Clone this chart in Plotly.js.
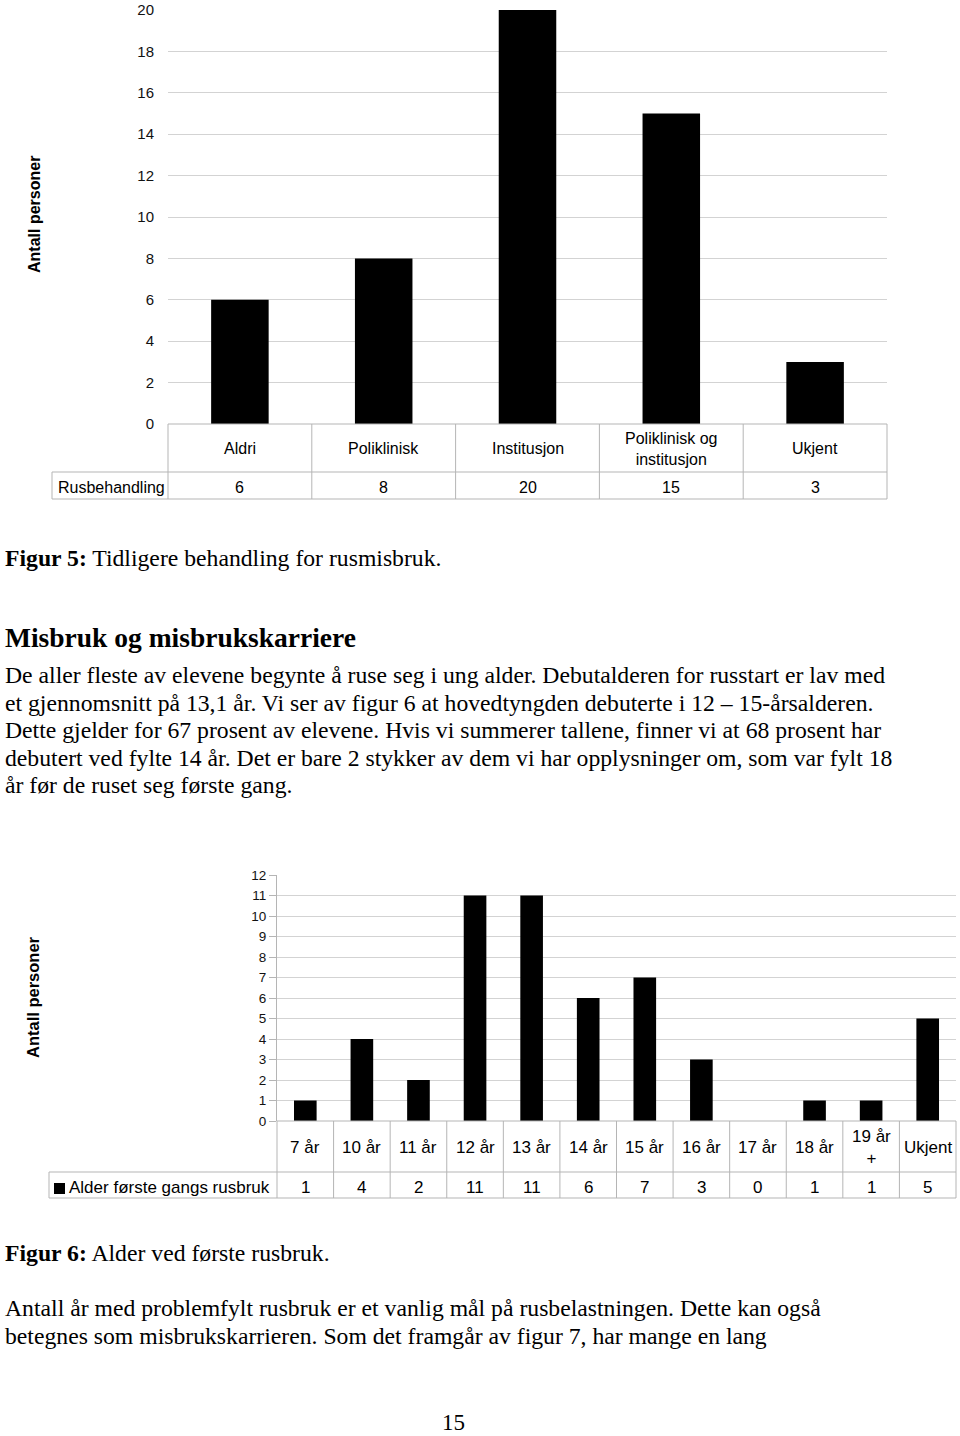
<!DOCTYPE html>
<html>
<head>
<meta charset="utf-8">
<script src="https://cdn.plot.ly/plotly-3.0.1.min.js"></script>
<style>
  html, body { margin: 0; padding: 0; background: #fff; }
  #chart { width: 960px; height: 1436px; }
</style>
</head>
<body>
<div id="chart"></div>
<script>
// ---------- Data ----------
const treatCategories = ['Aldri', 'Poliklinisk', 'Institusjon', 'Poliklinisk og<br>institusjon', 'Ukjent'];
const treatValues = [6, 8, 20, 15, 3];
const treatSeries = 'Rusbehandling';
const treatTicks = [0, 2, 4, 6, 8, 10, 12, 14, 16, 18, 20];

const ageCategories = ['7 år', '10 år', '11 år', '12 år', '13 år', '14 år', '15 år', '16 år', '17 år', '18 år', '19 år<br>+', 'Ukjent'];
const ageValues = [1, 4, 2, 11, 11, 6, 7, 3, 0, 1, 1, 5];
const ageSeries = 'Alder første gangs rusbruk';
const ageTicks = [0, 1, 2, 3, 4, 5, 6, 7, 8, 9, 10, 11, 12];

const yTitle = 'Antall personer';

const caption5 = '<b>Figur 5:</b> Tidligere behandling for rusmisbruk.';
const heading = '<b>Misbruk og misbrukskarriere</b>';
const paragraph1 = [
  'De aller fleste av elevene begynte å ruse seg i ung alder. Debutalderen for russtart er lav med',
  'et gjennomsnitt på 13,1 år. Vi ser av figur 6 at hovedtyngden debuterte i 12 – 15-årsalderen.',
  'Dette gjelder for 67 prosent av elevene. Hvis vi summerer tallene, finner vi at 68 prosent har',
  'debutert ved fylte 14 år. Det er bare 2 stykker av dem vi har opplysninger om, som var fylt 18',
  'år før de ruset seg første gang.'
];
const caption6 = '<b>Figur 6:</b> Alder ved første rusbruk.';
const paragraph2 = [
  'Antall år med problemfylt rusbruk er et vanlig mål på rusbelastningen. Dette kan også',
  'betegnes som misbrukskarrieren. Som det framgår av figur 7, har mange en lang'
];
const pageNumber = '15';

// ---------- Layout helpers ----------
const W = 960, H = 1436;
const px = v => v / W;
const py = v => 1 - v / H;
const SANS = 'Liberation Sans, Arial, sans-serif';
const SERIF = 'Liberation Serif, Times New Roman, serif';
const GRID = '#d3d3d3';
const BORDER = '#b5b5b5';
const BODY = 23.7;

const shapes = [];
const annotations = [];

function hline(xref, x0, x1, y) {
  shapes.push({type: 'line', xref: xref, yref: 'paper', x0: x0, x1: x1, y0: py(y), y1: py(y),
    line: {color: BORDER, width: 1}, layer: 'above'});
}
function vline(xref, x, y0, y1) {
  shapes.push({type: 'line', xref: xref, yref: 'paper', x0: x, x1: x, y0: py(y0), y1: py(y1),
    line: {color: BORDER, width: 1}, layer: 'above'});
}

// Data table under a chart
function buildTable(o) {
  const xa = o.xaxis;
  const dom = xa + ' domain';
  const n = o.categories.length;
  hline(dom, 0, 1, o.top);
  hline(dom, 0, 1, o.mid);
  hline(dom, 0, 1, o.bot);
  hline('paper', px(o.headLeft), px(o.domLeft), o.mid);
  hline('paper', px(o.headLeft), px(o.domLeft), o.bot);
  for (let i = 0; i <= n; i++) vline(dom, i / n, o.top, o.bot);
  vline('paper', px(o.headLeft), o.mid, o.bot);
  o.categories.forEach((c, i) => {
    annotations.push({xref: xa, yref: 'paper', x: c, y: py(o.catY), text: c, showarrow: false,
      xanchor: 'center', yanchor: 'middle', font: {family: SANS, size: o.fontSize, color: '#000'}});
    annotations.push({xref: xa, yref: 'paper', x: c, y: py(o.valY), text: String(o.values[i]), showarrow: false,
      xanchor: 'center', yanchor: 'middle', font: {family: SANS, size: o.fontSize, color: '#000'}});
  });
  annotations.push({xref: 'paper', yref: 'paper', x: px(o.headTextX), y: py(o.headTextY), text: o.series,
    showarrow: false, xanchor: 'left', yanchor: 'middle', font: {family: SANS, size: o.fontSize, color: '#000'}});
}

const c1 = {left: 168, right: 887, top: 10, bottom: 424};
const c2 = {left: 277, right: 956, top: 875, bottom: 1121};

buildTable({xaxis: 'x', categories: treatCategories, values: treatValues, series: treatSeries,
  top: 424, mid: 472, bot: 499, headLeft: 52, domLeft: c1.left, catY: 449, valY: 487,
  headTextX: 56, headTextY: 487, fontSize: 16});
buildTable({xaxis: 'x2', categories: ageCategories, values: ageValues, series: ageSeries,
  top: 1121, mid: 1172, bot: 1198, headLeft: 49, domLeft: c2.left, catY: 1147, valY: 1187,
  headTextX: 67, headTextY: 1187, fontSize: 17});

// legend key square for chart 2
shapes.push({type: 'rect', xref: 'paper', yref: 'paper', x0: px(54), x1: px(65), y0: py(1194), y1: py(1183),
  fillcolor: '#000', line: {width: 0}});

// y-axis titles
annotations.push({xref: 'paper', yref: 'paper', x: px(35), y: py(215), text: '<b>' + yTitle + '</b>',
  textangle: -90, showarrow: false, xanchor: 'center', yanchor: 'middle',
  font: {family: SANS, size: 16, color: '#000'}});
annotations.push({xref: 'paper', yref: 'paper', x: px(33), y: py(997), text: '<b>' + yTitle + '</b>',
  textangle: -90, showarrow: false, xanchor: 'center', yanchor: 'middle',
  font: {family: SANS, size: 16.5, color: '#000'}});

// page text
function textLine(t, y, size) {
  annotations.push({xref: 'paper', yref: 'paper', x: px(3), y: py(y), text: t,
    showarrow: false, xanchor: 'left', yanchor: 'middle', font: {family: SERIF, size: size, color: '#000'}});
}
textLine(caption5, 558, BODY);
textLine(heading, 638, 27.5);
paragraph1.forEach((t, i) => textLine(t, 675 + i * 27.5, BODY));
textLine(caption6, 1253, BODY);
paragraph2.forEach((t, i) => textLine(t, 1308 + i * 28, BODY));
annotations.push({xref: 'paper', yref: 'paper', x: px(453), y: py(1422), text: pageNumber, showarrow: false,
  xanchor: 'center', yanchor: 'middle', borderpad: 0, font: {family: SERIF, size: 23, color: '#000'}});

// ---------- Traces ----------
const traces = [
  {type: 'bar', x: treatCategories, y: treatValues, name: treatSeries, xaxis: 'x', yaxis: 'y',
    width: 0.4, marker: {color: '#000', line: {width: 0}}, hoverinfo: 'x+y'},
  {type: 'bar', x: ageCategories, y: ageValues, name: ageSeries, xaxis: 'x2', yaxis: 'y2',
    width: 0.4, marker: {color: '#000', line: {width: 0}}, hoverinfo: 'x+y'}
];

const layout = {
  width: W, height: H,
  margin: {l: 0, r: 0, t: 0, b: 0},
  paper_bgcolor: '#fff', plot_bgcolor: '#fff',
  showlegend: false,
  xaxis: {domain: [px(c1.left), px(c1.right)], anchor: 'y', type: 'category',
    range: [-0.5, treatCategories.length - 0.5], showticklabels: false, showgrid: false,
    zeroline: false, showline: false, ticks: ''},
  yaxis: {domain: [py(c1.bottom), py(c1.top)], anchor: 'x', range: [0, 20],
    tickvals: treatTicks, showgrid: true, gridcolor: GRID, gridwidth: 1, zeroline: false,
    showline: false, ticks: '', ticklabelstandoff: 13,
    tickfont: {family: SANS, size: 15, color: '#111'}},
  xaxis2: {domain: [px(c2.left), px(c2.right)], anchor: 'y2', type: 'category',
    range: [-0.5, ageCategories.length - 0.5], showticklabels: false, showgrid: false,
    zeroline: false, showline: false, ticks: ''},
  yaxis2: {domain: [py(c2.bottom), py(c2.top)], anchor: 'x2', range: [0, 12],
    tickvals: ageTicks, showgrid: true, gridcolor: GRID, gridwidth: 1, zeroline: false,
    showline: true, linecolor: BORDER, linewidth: 1, ticks: 'outside', ticklen: 7,
    tickcolor: BORDER, ticklabelstandoff: 0,
    tickfont: {family: SANS, size: 13.5, color: '#111'}},
  shapes: shapes,
  annotations: annotations
};

Plotly.newPlot('chart', traces, layout, {staticPlot: true, displayModeBar: false});
</script>
</body>
</html>
